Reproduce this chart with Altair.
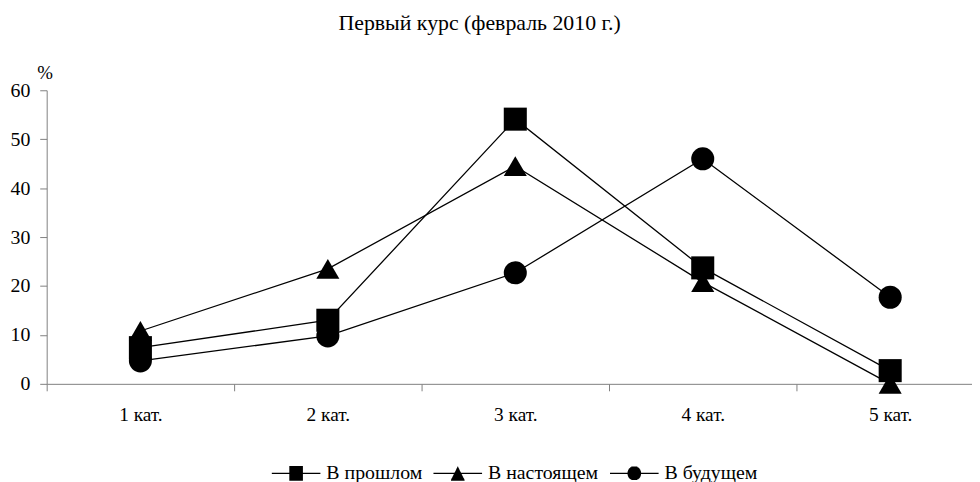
import math
import altair as alt
import pandas as pd

# ---- data ----
categories = [1, 2, 3, 4, 5]
cat_labels = ["1 кат.", "2 кат.", "3 кат.", "4 кат.", "5 кат."]
series_names = ["В прошлом", "В настоящем", "В будущем"]
past = [7.4, 13.0, 54.1, 23.7, 2.7]
present = [10.8, 23.5, 44.5, 20.8, 0.0]
future = [4.7, 9.8, 22.7, 46.0, 17.7]
title_text = "Первый курс (февраль 2010 г.)"
y_ticks = [0, 10, 20, 30, 40, 50, 60]

rows = []
for name, vals in zip(series_names, [past, present, future]):
    for c, v in zip(categories, vals):
        rows.append({"cat": c, "series": name, "value": v})
df = pd.DataFrame(rows)

FONT = "Liberation Serif"
W, H = 933, 296
BAND = 189.0

label_list = "[" + ",".join("'" + s + "'" for s in cat_labels) + "]"
x_vals = [0.5] + [v for c in categories for v in (c, c + 0.5)][:-1]

x_enc = alt.X(
    "cat:Q",
    scale=alt.Scale(domain=[0.5, 0.5 + W / BAND], nice=False, zero=False),
    axis=alt.Axis(
        values=x_vals,
        labelExpr="datum.value % 1 === 0 ? " + label_list + "[datum.value - 1] : ''",
        tickOpacity={"condition": {"test": "datum.value % 1 === 0", "value": 0}, "value": 1},
        title=None,
        grid=False,
        tickSize=7,
        labelPadding=15,
        labelFont=FONT,
        labelFontSize=19.5,
        labelColor="black",
        labelBaseline="top",
        domainColor="#808080",
        tickColor="#808080",
        labelFlush=False,
        labelOverlap=False,
    ),
)
y_enc = alt.Y(
    "value:Q",
    scale=alt.Scale(domain=[0, 60], nice=False),
    axis=alt.Axis(
        values=y_ticks,
        title="%",
        titleAngle=0,
        titleX=-2,
        titleY=-18,
        titleAlign="center",
        titleBaseline="middle",
        titleFont=FONT,
        titleFontSize=19,
        titleFontWeight="normal",
        titleColor="black",
        grid=False,
        tickSize=7,
        labelPadding=10,
        labelFont=FONT,
        labelFontSize=20,
        labelColor="black",
        domainColor="#808080",
        tickColor="#808080",
    ),
)

shape_order = alt.Scale(domain=series_names, range=["square", "triangle-up", "circle"])

lines = alt.Chart(df).mark_line(color="black", strokeWidth=1.3).encode(
    x=x_enc, y=y_enc, detail="series:N"
)
points = alt.Chart(df).mark_point(filled=True, size=540, opacity=1, color="black").encode(
    x=x_enc, y=y_enc, shape=alt.Shape("series:N", scale=shape_order, legend=None)
)


# legend glyphs: a line with a solid marker, the marker drawn as dense strokes
def hatch(halfwidth_at, y0, y1, step=0.03):
    parts = []
    n = int(round((y1 - y0) / step))
    for i in range(n + 1):
        y = y0 + i * (y1 - y0) / n
        hw = halfwidth_at(y)
        if hw > 0:
            parts.append("M%.3f,%.3fH%.3f" % (-hw, y, hw))
    return "".join(parts)


R = 0.28
sq_path = "M-1,0H1" + hatch(lambda y: R, -R, R)
tri_path = "M-1,0H1" + hatch(lambda y: R * (y + 0.28) / 0.56, -0.28, 0.28)
circ_path = "M-1,0H1" + hatch(lambda y: math.sqrt(max(R * R - y * y, 0)), -R, R)
legend_paths = [sq_path, tri_path, circ_path]

legend_layer = alt.Chart(df).transform_filter("false").mark_point(
    filled=False, color="black", strokeWidth=1.3, opacity=1
).encode(
    shape=alt.Shape(
        "series:N",
        scale=alt.Scale(domain=series_names, range=legend_paths),
        legend=alt.Legend(
            title=None,
            orient="none",
            direction="horizontal",
            legendX=226,
            legendY=360.5,
            symbolSize=2401,
            symbolStrokeColor="black",
            symbolStrokeWidth=1.3,
            symbolOpacity=1,
            labelOffset=5,
            columnPadding=8,
            labelFont=FONT,
            labelFontSize=20,
            labelColor="black",
            labelLimit=400,
        ),
    )
)

chart = (
    alt.layer(lines, points, legend_layer)
    .resolve_scale(shape="independent")
    .properties(
        width=W,
        height=H,
        autosize=alt.AutoSizeParams(type="none"),
        padding={"left": 39, "top": 81, "right": 0, "bottom": 97},
        title=alt.TitleParams(
            title_text,
            font=FONT,
            fontSize=22,
            fontWeight="normal",
            color="black",
            anchor="middle",
            dx=-30,
            dy=-25,
        ),
    )
    .configure(background="white", font=FONT)
    .configure_view(stroke=None)
)

chart.save("out.html", embed_options={"renderer": "svg", "actions": False})
